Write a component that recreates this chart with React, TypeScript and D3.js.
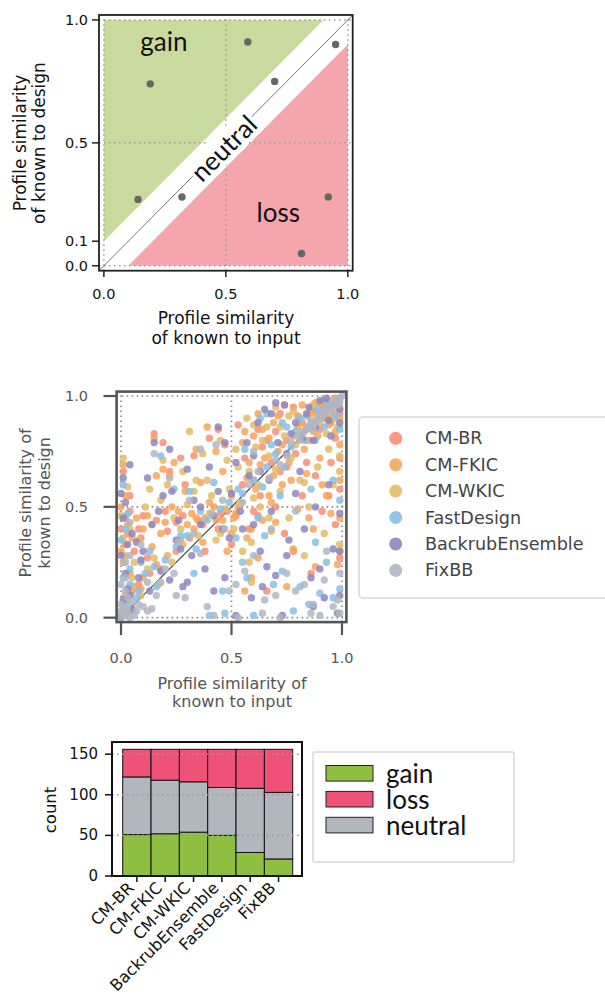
import React from 'react';
import * as d3 from 'd3';

// ---- schematic panel ----
const exampleX = [0.14, 0.19, 0.32, 0.59, 0.70, 0.95, 0.92, 0.81];
const exampleY = [0.27, 0.74, 0.28, 0.91, 0.75, 0.90, 0.28, 0.05];
const simTicksX = [0, 0.5, 1];
const simTicksYTop = [0, 0.1, 0.5, 1];
const simTicksY = [0, 0.5, 1];

// ---- scatter panel ----
const methods = ['CM-BR', 'CM-FKIC', 'CM-WKIC', 'FastDesign', 'BackrubEnsemble', 'FixBB'];
const methodColors = ['#f98d74', '#f9a55a', '#e3bb66', '#86bfe4', '#8e86c0', '#b1b6c3'];

const cmBR: [number, number][] = [
  [0.01, 0.66], [0.02, 0.45], [0.03, 0.38], [0.04, 0.55], [0.08, 0.40], [0.10, 0.46], [0.15, 0.83], [0.19, 0.79],
  [0.20, 0.48], [0.22, 0.66], [0.25, 0.43], [0.27, 0.72], [0.29, 0.60], [0.33, 0.73], [0.35, 0.44], [0.40, 0.81],
  [0.44, 0.85], [0.47, 0.78], [0.53, 0.87], [0.62, 0.85], [0.66, 0.80], [0.72, 0.92], [0.06, 0.30], [0.12, 0.27],
  [0.78, 0.95], [0.01, 0.05], [0.02, 0.10], [0.03, 0.02], [0.05, 0.12], [0.08, 0.15], [0.13, 0.20], [0.18, 0.22],
  [0.25, 0.30], [0.31, 0.36], [0.37, 0.42], [0.44, 0.40], [0.48, 0.48], [0.52, 0.46], [0.55, 0.60], [0.60, 0.62],
  [0.63, 0.55], [0.68, 0.70], [0.72, 0.66], [0.75, 0.80], [0.79, 0.74], [0.82, 0.88], [0.85, 0.80], [0.88, 0.93],
  [0.90, 0.85], [0.93, 0.97], [0.95, 0.88], [0.97, 0.99], [0.99, 0.92], [0.86, 0.94], [0.92, 0.90], [0.50, 0.33],
  [0.58, 0.40], [0.62, 0.46], [0.70, 0.50], [0.74, 0.38], [0.78, 0.30], [0.82, 0.55], [0.88, 0.64], [0.91, 0.48],
  [0.95, 0.70], [0.99, 0.27], [0.99, 0.58], [0.86, 0.20], [0.66, 0.12], [0.97, 0.42], [0.00, 0.40], [0.02, 0.33],
  [0.04, 0.48], [0.09, 0.36], [0.16, 0.44], [0.21, 0.39], [0.28, 0.46], [0.38, 0.30], [0.45, 0.47], [0.56, 0.72],
  [0.64, 0.77], [0.70, 0.84], [0.80, 0.91], [0.90, 0.97], [0.97, 0.81], [0.99, 0.72], [0.60, 0.48], [0.75, 0.68],
  [0.84, 0.70], [0.94, 0.55],
];
const cmFKIC: [number, number][] = [
  [0.01, 0.69], [0.00, 0.50], [0.02, 0.33], [0.03, 0.42], [0.05, 0.36], [0.07, 0.45], [0.09, 0.13], [0.14, 0.32],
  [0.15, 0.81], [0.16, 0.64], [0.19, 0.67], [0.20, 0.43], [0.22, 0.64], [0.24, 0.70], [0.26, 0.48], [0.29, 0.57],
  [0.32, 0.47], [0.34, 0.76], [0.36, 0.61], [0.39, 0.86], [0.40, 0.52], [0.43, 0.75], [0.46, 0.66], [0.55, 0.79],
  [0.60, 0.82], [0.64, 0.85], [0.69, 0.88], [0.74, 0.96], [0.58, 0.70], [0.00, 0.02], [0.03, 0.08], [0.06, 0.14],
  [0.10, 0.18], [0.16, 0.24], [0.21, 0.28], [0.27, 0.35], [0.33, 0.40], [0.38, 0.45], [0.42, 0.50], [0.46, 0.44],
  [0.50, 0.55], [0.53, 0.50], [0.57, 0.63], [0.61, 0.58], [0.65, 0.72], [0.69, 0.64], [0.73, 0.78], [0.76, 0.70],
  [0.80, 0.86], [0.83, 0.76], [0.86, 0.92], [0.89, 0.82], [0.91, 0.96], [0.94, 0.87], [0.96, 0.93], [0.98, 0.97],
  [0.99, 0.90], [0.84, 0.86], [0.87, 0.84], [0.71, 0.75], [0.63, 0.69], [0.92, 0.95], [0.50, 0.38], [0.52, 0.47],
  [0.57, 0.36], [0.59, 0.40], [0.59, 0.18], [0.64, 0.44], [0.67, 0.55], [0.70, 0.43], [0.73, 0.60], [0.78, 0.31],
  [0.80, 0.49], [0.84, 0.65], [0.87, 0.40], [0.88, 0.23], [0.90, 0.72], [0.93, 0.55], [0.95, 0.47], [0.99, 0.30],
  [0.99, 0.62], [0.98, 0.24], [0.75, 0.14], [0.62, 0.27], [0.00, 0.30], [0.01, 0.25], [0.02, 0.55], [0.04, 0.20],
  [0.10, 0.40], [0.12, 0.46], [0.18, 0.38], [0.23, 0.50], [0.30, 0.42], [0.34, 0.45], [0.37, 0.34], [0.43, 0.44],
  [0.48, 0.30], [0.51, 0.45], [0.56, 0.84], [0.62, 0.92], [0.67, 0.81], [0.71, 0.91], [0.78, 0.82], [0.82, 0.96],
  [0.88, 0.97], [0.94, 0.91], [0.97, 0.84], [0.99, 0.78], [0.99, 0.45], [0.91, 0.60], [0.85, 0.45], [0.77, 0.62],
  [0.68, 0.52], [0.56, 0.12],
];
const cmWKIC: [number, number][] = [
  [0.01, 0.72], [0.02, 0.28], [0.04, 0.40], [0.08, 0.35], [0.11, 0.50], [0.15, 0.27], [0.19, 0.71], [0.21, 0.60],
  [0.24, 0.45], [0.28, 0.66], [0.30, 0.51], [0.34, 0.62], [0.37, 0.74], [0.41, 0.55], [0.45, 0.80], [0.48, 0.71],
  [0.52, 0.76], [0.57, 0.90], [0.61, 0.77], [0.66, 0.86], [0.70, 0.95], [0.76, 0.91], [0.13, 0.58], [0.31, 0.84],
  [0.05, 0.18], [0.02, 0.04], [0.04, 0.12], [0.09, 0.10], [0.12, 0.22], [0.17, 0.15], [0.23, 0.25], [0.28, 0.33],
  [0.35, 0.37], [0.40, 0.47], [0.45, 0.38], [0.49, 0.58], [0.54, 0.52], [0.58, 0.66], [0.62, 0.60], [0.67, 0.73],
  [0.70, 0.67], [0.74, 0.82], [0.77, 0.72], [0.81, 0.90], [0.84, 0.80], [0.87, 0.96], [0.90, 0.88], [0.93, 0.83],
  [0.95, 0.98], [0.97, 0.90], [0.99, 0.95], [0.82, 0.84], [0.60, 0.54], [0.89, 0.92], [0.79, 0.78], [0.51, 0.40],
  [0.55, 0.30], [0.59, 0.34], [0.63, 0.50], [0.68, 0.39], [0.72, 0.57], [0.76, 0.45], [0.81, 0.62], [0.85, 0.50],
  [0.89, 0.68], [0.92, 0.38], [0.96, 0.60], [0.99, 0.73], [0.99, 0.33], [0.59, 0.16], [0.83, 0.28], [0.94, 0.76],
  [0.00, 0.46], [0.01, 0.36], [0.03, 0.59], [0.06, 0.25], [0.14, 0.42], [0.18, 0.53], [0.27, 0.40], [0.33, 0.57],
  [0.39, 0.62], [0.43, 0.35], [0.47, 0.49], [0.53, 0.68], [0.60, 0.87], [0.64, 0.80], [0.72, 0.86], [0.78, 0.93],
  [0.86, 0.89], [0.92, 0.98], [0.98, 0.86], [0.99, 0.66], [0.83, 0.61], [0.67, 0.45], [0.58, 0.25],
];
const fastDesign: [number, number][] = [
  [0.01, 0.60], [0.03, 0.47], [0.04, 0.22], [0.09, 0.25], [0.18, 0.73], [0.24, 0.58], [0.31, 0.57], [0.36, 0.48],
  [0.42, 0.61], [0.56, 0.76], [0.63, 0.90], [0.66, 0.92], [0.73, 0.88], [0.00, 0.01], [0.02, 0.06], [0.04, 0.15],
  [0.07, 0.09], [0.11, 0.20], [0.15, 0.23], [0.20, 0.26], [0.25, 0.32], [0.30, 0.37], [0.34, 0.31], [0.39, 0.44],
  [0.45, 0.49], [0.49, 0.52], [0.55, 0.56], [0.60, 0.62], [0.66, 0.68], [0.70, 0.74], [0.74, 0.68], [0.79, 0.84],
  [0.83, 0.80], [0.86, 0.88], [0.89, 0.94], [0.92, 0.86], [0.95, 0.95], [0.97, 0.91], [0.99, 0.99], [0.84, 0.91],
  [0.77, 0.77], [0.64, 0.59], [0.53, 0.58], [0.40, 0.01], [0.47, 0.02], [0.55, 0.25], [0.60, 0.01], [0.65, 0.37],
  [0.69, 0.15], [0.72, 0.55], [0.78, 0.03], [0.81, 0.14], [0.85, 0.06], [0.88, 0.34], [0.90, 0.11], [0.93, 0.25],
  [0.96, 0.62], [0.99, 0.13], [0.99, 0.53], [0.62, 0.45], [0.86, 0.58], [0.00, 0.35], [0.01, 0.18], [0.02, 0.40],
  [0.05, 0.03], [0.08, 0.12], [0.13, 0.30], [0.16, 0.14], [0.27, 0.37], [0.33, 0.20], [0.46, 0.12], [0.52, 0.36],
  [0.57, 0.18], [0.68, 0.78], [0.75, 0.86], [0.81, 0.90], [0.88, 0.80], [0.93, 0.97], [0.99, 0.85], [0.96, 0.09],
  [0.73, 0.21],
];
const backrubEnsemble: [number, number][] = [
  [0.01, 0.63], [0.02, 0.52], [0.04, 0.69], [0.05, 0.38], [0.07, 0.34], [0.09, 0.26], [0.15, 0.79], [0.17, 0.48],
  [0.22, 0.76], [0.23, 0.57], [0.26, 0.44], [0.30, 0.67], [0.33, 0.53], [0.36, 0.50], [0.40, 0.68], [0.44, 0.86],
  [0.47, 0.79], [0.52, 0.70], [0.60, 0.73], [0.65, 0.94], [0.70, 0.97], [0.12, 0.63], [0.00, 0.00], [0.01, 0.08],
  [0.03, 0.13], [0.05, 0.04], [0.08, 0.18], [0.13, 0.12], [0.18, 0.21], [0.22, 0.17], [0.27, 0.31], [0.32, 0.28],
  [0.36, 0.42], [0.42, 0.46], [0.46, 0.40], [0.50, 0.56], [0.54, 0.48], [0.58, 0.64], [0.63, 0.66], [0.67, 0.62],
  [0.71, 0.79], [0.75, 0.74], [0.79, 0.88], [0.82, 0.81], [0.85, 0.95], [0.88, 0.86], [0.91, 0.92], [0.94, 0.89],
  [0.96, 0.96], [0.99, 0.94], [0.93, 0.99], [0.87, 0.80], [0.28, 0.14], [0.42, 0.12], [0.47, 0.18], [0.52, 0.01],
  [0.55, 0.40], [0.59, 0.09], [0.60, 0.42], [0.66, 0.23], [0.68, 0.48], [0.70, 0.19], [0.73, 0.01], [0.76, 0.35],
  [0.79, 0.56], [0.83, 0.40], [0.86, 0.18], [0.88, 0.50], [0.90, 0.22], [0.92, 0.09], [0.94, 0.60], [0.96, 0.31],
  [0.99, 0.10], [0.99, 0.47], [0.98, 0.02], [0.63, 0.30], [0.81, 0.66], [0.00, 0.56], [0.00, 0.28], [0.01, 0.45],
  [0.02, 0.20], [0.03, 0.33], [0.04, 0.10], [0.10, 0.30], [0.14, 0.42], [0.19, 0.55], [0.25, 0.35], [0.30, 0.16],
  [0.38, 0.22], [0.44, 0.57], [0.49, 0.36], [0.57, 0.79], [0.62, 0.88], [0.68, 0.92], [0.74, 0.96], [0.77, 0.83],
  [0.84, 0.92], [0.90, 0.98], [0.95, 0.82], [0.99, 0.88], [0.99, 0.30], [0.87, 0.05], [0.75, 0.28], [0.64, 0.14],
];
const fixBB: [number, number][] = [
  [0.02, 0.25], [0.04, 0.43], [0.15, 0.74], [0.22, 0.63], [0.36, 0.76], [0.31, 0.53], [0.43, 0.78], [0.60, 0.75],
  [0.00, 0.00], [0.01, 0.02], [0.02, 0.01], [0.03, 0.04], [0.00, 0.06], [0.04, 0.00], [0.05, 0.07], [0.02, 0.12],
  [0.07, 0.03], [0.10, 0.05], [0.12, 0.16], [0.20, 0.22], [0.26, 0.34], [0.36, 0.29], [0.41, 0.47], [0.46, 0.53],
  [0.55, 0.52], [0.62, 0.66], [0.70, 0.71], [0.80, 0.82], [0.82, 0.83], [0.84, 0.85], [0.86, 0.87], [0.88, 0.88],
  [0.89, 0.90], [0.90, 0.91], [0.91, 0.92], [0.92, 0.93], [0.93, 0.94], [0.94, 0.95], [0.95, 0.96], [0.96, 0.96],
  [0.97, 0.97], [0.98, 0.98], [0.99, 0.99], [1.00, 1.00], [0.99, 0.97], [0.87, 0.85], [0.75, 0.73], [0.67, 0.63],
  [0.25, 0.10], [0.29, 0.09], [0.42, 0.01], [0.49, 0.12], [0.53, 0.00], [0.56, 0.21], [0.60, 0.28], [0.64, 0.02],
  [0.68, 0.40], [0.72, 0.00], [0.75, 0.20], [0.79, 0.12], [0.83, 0.15], [0.87, 0.06], [0.90, 0.01], [0.93, 0.30],
  [0.96, 0.05], [0.99, 0.02], [0.99, 0.20], [0.79, 0.48], [0.12, 0.03], [0.14, 0.04], [0.00, 0.03], [0.01, 0.05],
  [0.03, 0.09], [0.00, 0.15], [0.02, 0.18], [0.04, 0.28], [0.06, 0.01], [0.08, 0.06], [0.09, 0.33], [0.16, 0.10],
  [0.18, 0.16], [0.24, 0.20], [0.33, 0.38], [0.39, 0.05], [0.47, 0.40], [0.52, 0.15], [0.58, 0.60], [0.65, 0.08],
  [0.72, 0.69], [0.77, 0.79], [0.81, 0.80], [0.83, 0.84], [0.85, 0.86], [0.87, 0.88], [0.89, 0.89], [0.91, 0.91],
  [0.93, 0.93], [0.95, 0.94], [0.97, 0.98], [0.98, 0.96], [0.86, 0.02], [0.92, 0.17], [0.98, 0.08], [0.70, 0.10],
];
const methodPoints = [cmBR, cmFKIC, cmWKIC, fastDesign, backrubEnsemble, fixBB];

// ---- stacked bar panel ----
const barMethods = ['CM-BR', 'CM-FKIC', 'CM-WKIC', 'BackrubEnsemble', 'FastDesign', 'FixBB'];
const gainCounts = [51, 52, 54, 50, 29, 21];
const neutralCounts = [71, 66, 62, 59, 79, 82];
const lossCounts = [34, 38, 40, 47, 48, 53];
const countTicks = [0, 50, 100, 150];
const outcomeKeys = ['gain', 'neutral', 'loss'];
const outcomeColors: Record<string, string> = { gain: '#8fbf40', loss: '#f05277', neutral: '#b2b6bd' };
const legendOutcomes = ['gain', 'loss', 'neutral'];

const SANS = 'DejaVu Sans, sans-serif';
const HUMAN = 'Lato, "Open Sans", sans-serif';
const fmt = d3.format('.1f');

function Schematic() {
  const x = d3.scaleLinear().domain([-0.02, 1.02]).range([99, 352.7]);
  const y = d3.scaleLinear().domain([-0.02, 1.02]).range([270.7, 15]);
  const line = d3.line<[number, number]>().x((d) => x(d[0])).y((d) => y(d[1]));
  const gainPoly: [number, number][] = [[0, 0.1], [0, 1], [0.9, 1]];
  const lossPoly: [number, number][] = [[0.1, 0], [1, 0], [1, 0.9]];
  const cx = x(0.49), cy = y(0.48);
  return (
    <g>
      <path d={line(gainPoly)! + 'Z'} fill="#c8da9e" />
      <path d={line(lossPoly)! + 'Z'} fill="#f5a6ad" />
      {simTicksX.map((t) => (
        <line key={'gx' + t} x1={x(t)} x2={x(t)} y1={y(-0.02)} y2={y(1.02)} stroke="#999" strokeWidth={1.5} strokeDasharray="1.5,3.5" />
      ))}
      {simTicksY.map((t) => (
        <line key={'gy' + t} y1={y(t)} y2={y(t)} x1={x(-0.02)} x2={x(1.02)} stroke="#999" strokeWidth={1.5} strokeDasharray="1.5,3.5" />
      ))}
      <path d={line([[-0.02, -0.02], [1.02, 1.02]])!} stroke="#777" strokeWidth={1} />
      <g transform={`translate(${cx},${cy}) rotate(-45)`}>
        <rect x={-42} y={-14} width={84} height={28} fill="#fff" />
        <text textAnchor="middle" dominantBaseline="central" fontFamily={HUMAN} fontSize={26} fill="#111">neutral</text>
      </g>
      <text x={x(0.246)} y={y(0.915)} textAnchor="middle" dominantBaseline="central" fontFamily={HUMAN} fontSize={26} fill="#111">gain</text>
      <text x={x(0.715)} y={y(0.22)} textAnchor="middle" dominantBaseline="central" fontFamily={HUMAN} fontSize={26} fill="#111">loss</text>
      {exampleX.map((v, i) => (
        <circle key={i} cx={x(v)} cy={y(exampleY[i])} r={3.7} fill="#666" />
      ))}
      <rect x={99} y={15} width={253.7} height={255.7} fill="none" stroke="#222" strokeWidth={1.8} />
      {simTicksX.map((t) => (
        <g key={'tx' + t}>
          <line x1={x(t)} x2={x(t)} y1={270.7} y2={277} stroke="#222" strokeWidth={1.5} />
          <text x={x(t)} y={294} textAnchor="middle" dominantBaseline="central" fontFamily={SANS} fontSize={14.5} fill="#111">{fmt(t)}</text>
        </g>
      ))}
      {simTicksYTop.map((t) => (
        <g key={'ty' + t}>
          <line x1={92} x2={99} y1={y(t)} y2={y(t)} stroke="#222" strokeWidth={1.5} />
          <text x={88} y={y(t)} textAnchor="end" dominantBaseline="central" fontFamily={SANS} fontSize={14.5} fill="#111">{fmt(t)}</text>
        </g>
      ))}
      <text x={226} y={318} textAnchor="middle" dominantBaseline="central" fontFamily={SANS} fontSize={17} fill="#111">Profile similarity</text>
      <text x={226} y={338} textAnchor="middle" dominantBaseline="central" fontFamily={SANS} fontSize={17} fill="#111">of known to input</text>
      <g transform="translate(20,143) rotate(-90)">
        <text textAnchor="middle" dominantBaseline="central" fontFamily={SANS} fontSize={17} fill="#111">Profile similarity</text>
      </g>
      <g transform="translate(39,143) rotate(-90)">
        <text textAnchor="middle" dominantBaseline="central" fontFamily={SANS} fontSize={17} fill="#111">of known to design</text>
      </g>
    </g>
  );
}

function Scatter() {
  const x = d3.scaleLinear().domain([-0.02, 1.02]).range([116.6, 346.4]);
  const y = d3.scaleLinear().domain([-0.02, 1.02]).range([622.1, 391.6]);
  const grey = '#555';
  return (
    <g>
      {simTicksX.map((t) => (
        <line key={'gx' + t} x1={x(t)} x2={x(t)} y1={y(-0.02)} y2={y(1.02)} stroke="#888" strokeWidth={1.6} strokeDasharray="1.6,3.4" />
      ))}
      {simTicksY.map((t) => (
        <line key={'gy' + t} y1={y(t)} y2={y(t)} x1={x(-0.02)} x2={x(1.02)} stroke="#888" strokeWidth={1.6} strokeDasharray="1.6,3.4" />
      ))}
      <line x1={x(0)} y1={y(0)} x2={x(1)} y2={y(1)} stroke="#444" strokeWidth={1.2} />
      {methodPoints.map((pts, k) => (
        <g key={methods[k]} fill={methodColors[k]} fillOpacity={0.85}>
          {pts.map((p, i) => (
            <circle key={i} cx={x(p[0])} cy={y(p[1])} r={3.7} />
          ))}
        </g>
      ))}
      <rect x={116.6} y={391.6} width={229.8} height={230.5} fill="none" stroke={grey} strokeWidth={2.6} />
      {simTicksX.map((t) => (
        <g key={'tx' + t}>
          <line x1={x(t)} x2={x(t)} y1={622} y2={635} stroke={grey} strokeWidth={2.2} />
          <text x={x(t)} y={658} textAnchor="middle" dominantBaseline="central" fontFamily={SANS} fontSize={14.5} fill={grey}>{fmt(t)}</text>
        </g>
      ))}
      {simTicksY.map((t) => (
        <g key={'ty' + t}>
          <line x1={103.5} x2={116.6} y1={y(t)} y2={y(t)} stroke={grey} strokeWidth={2.2} />
          <text x={88} y={y(t)} textAnchor="end" dominantBaseline="central" fontFamily={SANS} fontSize={14.5} fill={grey}>{fmt(t)}</text>
        </g>
      ))}
      <text x={232} y={683} textAnchor="middle" dominantBaseline="central" fontFamily={SANS} fontSize={16} fill={grey}>Profile similarity of</text>
      <text x={232} y={701} textAnchor="middle" dominantBaseline="central" fontFamily={SANS} fontSize={16} fill={grey}>known to input</text>
      <g transform="translate(25,503) rotate(-90)">
        <text textAnchor="middle" dominantBaseline="central" fontFamily={SANS} fontSize={16} fill={grey}>Profile similarity of</text>
      </g>
      <g transform="translate(44,503) rotate(-90)">
        <text textAnchor="middle" dominantBaseline="central" fontFamily={SANS} fontSize={16} fill={grey}>known to design</text>
      </g>
      <rect x={359} y={417} width={270} height={181} rx={4} fill="#fff" stroke="#d8d8d8" strokeWidth={1.5} />
      {methods.map((m, i) => {
        const ly = 438.3 + i * 26.4;
        return (
          <g key={m}>
            <circle cx={395.7} cy={ly} r={6.5} fill={methodColors[i]} fillOpacity={0.9} />
            <text x={425} y={ly} dominantBaseline="central" fontFamily={SANS} fontSize={17.6} fill="#444">{m}</text>
          </g>
        );
      })}
    </g>
  );
}

function StackedBars() {
  const x = d3.scaleBand<string>().domain(barMethods).range([122.7, 292.7]).padding(0);
  const y = d3.scaleLinear().domain([0, 165]).range([876, 742]);
  const rows = barMethods.map((m, i) => ({ method: m, gain: gainCounts[i], neutral: neutralCounts[i], loss: lossCounts[i] }));
  const series = d3.stack<any>().keys(outcomeKeys)(rows);
  return (
    <g>
      {series.map((s) => (
        <g key={s.key} fill={outcomeColors[s.key]} stroke="#111" strokeWidth={1}>
          {s.map((d, i) => (
            <rect key={i} x={x(d.data.method)!} width={x.bandwidth()} y={y(d[1])} height={y(d[0]) - y(d[1])} />
          ))}
        </g>
      ))}
      {countTicks.filter((t) => t > 0).map((t) => (
        <line key={'g' + t} x1={112} x2={302} y1={y(t)} y2={y(t)} stroke="#999" strokeWidth={1.6} strokeDasharray="1.6,3.4" />
      ))}
      <rect x={112} y={742} width={190} height={134} fill="none" stroke="#111" strokeWidth={2} />
      {countTicks.map((t) => (
        <g key={'t' + t}>
          <line x1={105} x2={112} y1={y(t)} y2={y(t)} stroke="#111" strokeWidth={1.5} />
          <text x={98} y={y(t)} textAnchor="end" dominantBaseline="central" fontFamily={SANS} fontSize={15} fill="#111">{t}</text>
        </g>
      ))}
      {barMethods.map((m) => {
        const cx = x(m)! + x.bandwidth() / 2;
        return (
          <g key={m}>
            <line x1={cx} x2={cx} y1={876} y2={882} stroke="#111" strokeWidth={1.5} />
            <g transform={`translate(${cx - 2},${889}) rotate(-45)`}>
              <text textAnchor="end" fontFamily={SANS} fontSize={16.2} fill="#111">{m}</text>
            </g>
          </g>
        );
      })}
      <g transform="translate(50,810) rotate(-90)">
        <text textAnchor="middle" dominantBaseline="central" fontFamily={SANS} fontSize={16.5} fill="#111">count</text>
      </g>
      <rect x={313} y={752} width={201} height={110} rx={2} fill="#fff" stroke="#d8d8d8" strokeWidth={1.5} />
      {legendOutcomes.map((k, i) => {
        const ly = 773.3 + i * 25.9;
        return (
          <g key={k}>
            <rect x={326} y={ly - 7.8} width={47} height={15.6} fill={outcomeColors[k]} stroke="#222" strokeWidth={1} />
            <text x={386} y={ly} dominantBaseline="central" fontFamily={HUMAN} fontSize={26} fill="#111">{k}</text>
          </g>
        );
      })}
    </g>
  );
}

export default function App() {
  return (
    <svg width={605} height={996} style={{ position: 'absolute', left: 0, top: 0, background: '#fff' }}>
      <Schematic />
      <Scatter />
      <StackedBars />
    </svg>
  );
}
